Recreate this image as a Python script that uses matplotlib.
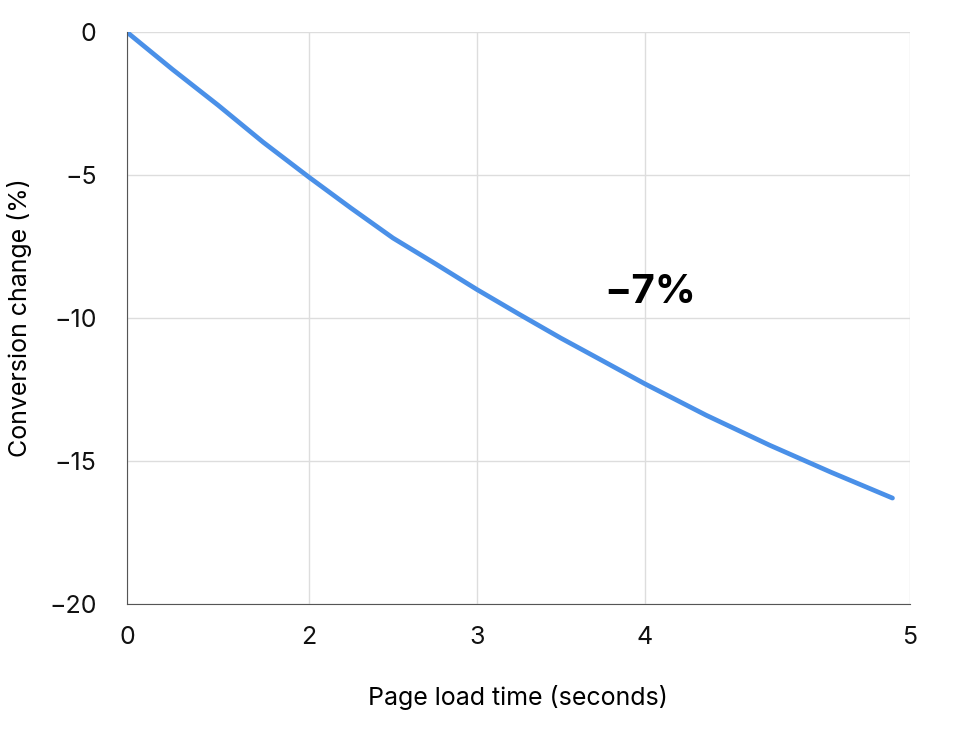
import matplotlib
matplotlib.use("Agg")
import matplotlib.pyplot as plt
plt.rcParams['font.family'] = ['Inter', 'DejaVu Sans']

# tick positions on the (non-uniform) drawn axis and their labels
tick_pos = [0, 1.162, 2.235, 3.308, 5.0]
tick_labels = ["0", "2", "3", "4", "5"]
# curve samples: axis position and conversion change (%)
curve_x = [0, 0.29, 0.581, 0.87, 1.162, 1.43, 1.699, 1.97, 2.235, 2.5, 2.771, 3.04, 3.308, 3.7, 4.106, 4.5, 4.891]
curve_y = [0, -1.3, -2.55, -3.85, -5.07, -6.15, -7.2, -8.1, -9.0, -9.85, -10.7, -11.5, -12.3, -13.4, -14.45, -15.4, -16.3]
y_ticks = [0, -5, -10, -15, -20]

fig = plt.figure(figsize=(9.78, 7.51), dpi=100)
ax = fig.add_axes([0.130, 0.196, 0.80, 0.761])
ax.plot(curve_x, curve_y, color="#4a90e8", lw=3.4, solid_capstyle="round")
ax.set_xlim(0, 5)
ax.set_ylim(-20, 0)
ax.set_xticks(tick_pos)
ax.set_xticklabels(tick_labels)
ax.set_yticks(y_ticks)
ax.set_yticklabels(["0", "\u22125", "\u221210", "\u221215", "\u221220"])
ax.grid(True, color="#dddddd", lw=1)
ax.set_axisbelow(True)
for s in ["top", "right"]:
    ax.spines[s].set_visible(False)
for s in ["left", "bottom"]:
    ax.spines[s].set_color("#555555")
ax.tick_params(length=0, labelsize=18, colors="#111111")
ax.tick_params(axis="x", pad=16)
ax.tick_params(axis="y", pad=22)
ax.set_xlabel("Page load time (seconds)", fontsize=18, labelpad=26)
ax.set_ylabel("Conversion change (%)", fontsize=18, labelpad=12)
ax.text(3.34, -9.1, "\u22127%", fontsize=29, fontweight="bold", ha="center", va="center")
fig.savefig("out.png", dpi=100, facecolor="white")
